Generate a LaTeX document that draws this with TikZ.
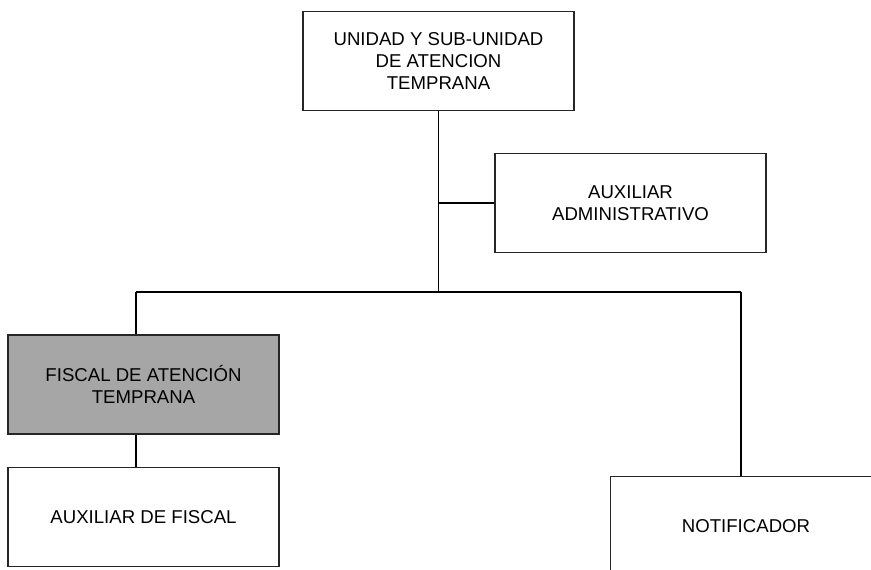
\documentclass[tikz,border=0pt]{standalone}
\usepackage{fontspec}
\setmainfont{Liberation Sans}
\usetikzlibrary{positioning}

\begin{document}
\begin{tikzpicture}[x=0.5pt,y=-0.5pt,
    unitbox/.style={draw=black!85, line width=0.8pt, fill=white, align=center,
        minimum width=135.5pt, minimum height=49.5pt, inner sep=0pt,
        font=\fontsize{9.3}{11}\selectfont},
    conn/.style={draw=black, line width=0.8pt}]
            \useasboundingbox (0,0) rectangle (871,569);
            \clip (0,0) rectangle (871,569);

            % Boxes
            \node[unitbox] (unidad) at (438.5,61) {UNIDAD Y SUB-UNIDAD\\DE ATENCION\\TEMPRANA};
            \node[unitbox] (admin) at (630.5,203) {AUXILIAR\\ADMINISTRATIVO};
            \node[unitbox, fill=black!35] (fiscal) at (143.5,384.5) {FISCAL DE ATENCIÓN\\TEMPRANA};
            \node[unitbox] (auxfiscal) at (143.5,517) {AUXILIAR DE FISCAL};
            \node[unitbox] (notif) at (746,526) {NOTIFICADOR};

            % Lines
            \coordinate (busL) at (136,292);
            \coordinate (busR) at (741,292);
            \draw[conn] (unidad.south) -- (unidad.south |- busL);
            \draw[conn] (unidad.south |- admin.west) -- (admin.west);
            \draw[conn] (busL) -- (busR);
            \draw[conn] (busL) -- (busL |- fiscal.north);
            \draw[conn] (busL |- fiscal.south) -- (busL |- auxfiscal.north);
            \draw[conn] (busR) -- (busR |- notif.north);
        \end{tikzpicture}
\end{document}
